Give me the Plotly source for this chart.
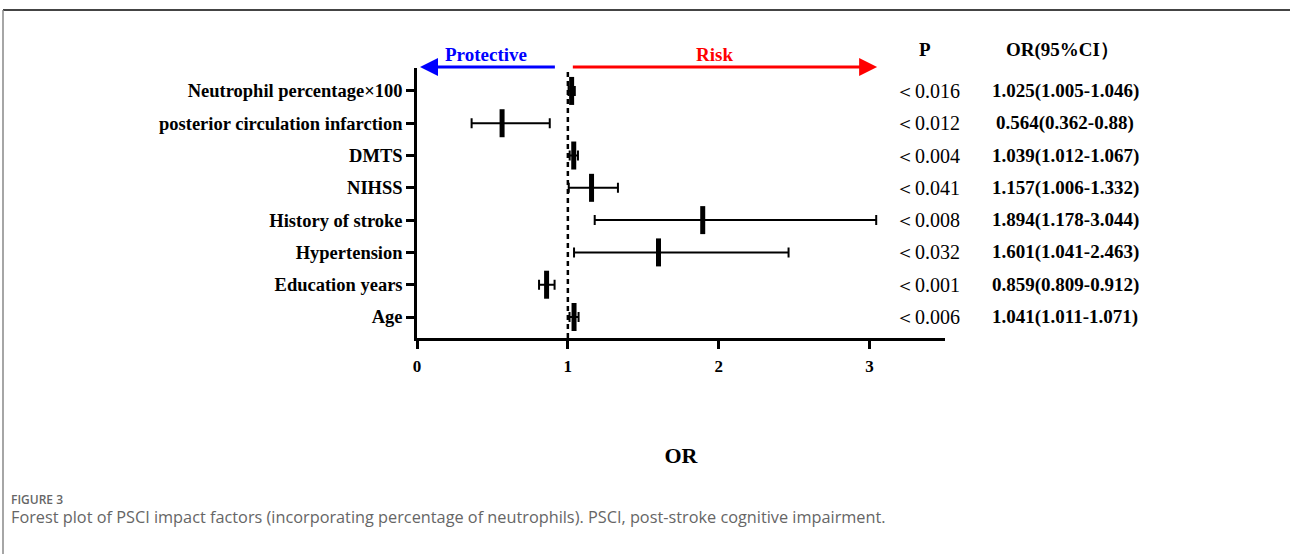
import plotly.graph_objects as go

labels = ["Neutrophil percentage×100", "posterior circulation infarction", "DMTS", "NIHSS",
          "History of stroke", "Hypertension", "Education years", "Age"]
or_vals = [1.025, 0.564, 1.039, 1.157, 1.894, 1.601, 0.859, 1.041]
ci_low = [1.005, 0.362, 1.012, 1.006, 1.178, 1.041, 0.809, 1.011]
ci_high = [1.046, 0.88, 1.067, 1.332, 3.044, 2.463, 0.912, 1.071]
p_text = ["＜0.016", "＜0.012", "＜0.004", "＜0.041", "＜0.008", "＜0.032", "＜0.001", "＜0.006"]
or_text = ["1.025(1.005-1.046)", "0.564(0.362-0.88)", "1.039(1.012-1.067)", "1.157(1.006-1.332)",
           "1.894(1.178-3.044)", "1.601(1.041-2.463)", "0.859(0.809-0.912)", "1.041(1.011-1.071)"]
x_ticks = [0, 1, 2, 3]

W, H = 1290, 554
rows = list(range(len(labels), 0, -1))
SERIF = "Liberation Serif"

fig = go.Figure()
fig.add_trace(go.Scatter(
    x=or_vals, y=rows, mode="markers",
    marker=dict(symbol="line-ns", size=20, line=dict(width=5, color="black"), color="black"),
    error_x=dict(type="data", symmetric=False,
                 array=[h - o for h, o in zip(ci_high, or_vals)],
                 arrayminus=[o - l for o, l in zip(or_vals, ci_low)],
                 color="black", thickness=2, width=5),
    showlegend=False, hoverinfo="skip", cliponaxis=False))

x0p, x1p = 417 / W, 945 / W
y0p, y1p = 1 - 338 / H, 1 - 68 / H

fig.update_layout(
    width=W, height=H, margin=dict(l=0, r=0, t=0, b=0, autoexpand=False),
    paper_bgcolor="white", plot_bgcolor="white",
    xaxis=dict(domain=[x0p, x1p], range=[0, 3.5], tickvals=x_ticks, automargin=False,
               showline=True, linewidth=2.5, linecolor="black", mirror=False,
               ticks="outside", ticklen=8, tickwidth=2.5, tickcolor="black",
               showgrid=False, zeroline=False,
               tickfont=dict(family=SERIF, size=17, color="black", weight="bold"),
               ticklabelstandoff=3,
               title=dict(text="OR", font=dict(family=SERIF, size=22, color="black", weight="bold"),
                          standoff=73)),
    yaxis=dict(domain=[y0p, y1p], range=[0.35, 8.71], tickvals=rows, ticktext=labels,
               automargin=False,
               showline=True, linewidth=2.5, linecolor="black",
               ticks="outside", ticklen=8, tickwidth=2.5, tickcolor="black",
               showgrid=False, zeroline=False,
               tickfont=dict(family=SERIF, size=18.5, color="black", weight="bold")),
)

# reference line at OR = 1
fig.add_shape(type="line", xref="x", yref="y domain", x0=1, x1=1, y0=0, y1=1,
              line=dict(color="black", width=2.5, dash="5px,4px"))

# arrows
arrow_y = 1 - 67 / H
fig.add_annotation(xref="x", yref="paper", x=0.02, y=arrow_y, axref="x", ayref="pixel",
                   ax=0.924, ay=0, showarrow=True, arrowhead=2, arrowsize=1.2, arrowwidth=3,
                   arrowcolor="blue", text="")
fig.add_annotation(xref="x", yref="paper", x=3.05, y=arrow_y, axref="x", ayref="pixel",
                   ax=1.023, ay=0, showarrow=True, arrowhead=2, arrowsize=1.2, arrowwidth=3,
                   arrowcolor="red", text="")
fig.add_annotation(xref="x", yref="paper", x=0.46, y=1 - 54 / H, text="Protective", showarrow=False,
                   xanchor="center", yanchor="middle",
                   font=dict(family=SERIF, size=19, color="blue", weight="bold"))
fig.add_annotation(xref="x", yref="paper", x=1.97, y=1 - 54 / H, text="Risk", showarrow=False,
                   xanchor="center", yanchor="middle",
                   font=dict(family=SERIF, size=19, color="red", weight="bold"))

# column headers
fig.add_annotation(xref="paper", yref="paper", x=925 / W, y=1 - 49 / H, text="P", showarrow=False,
                   xanchor="center", yanchor="middle",
                   font=dict(family=SERIF, size=19, color="black", weight="bold"))
fig.add_annotation(xref="paper", yref="paper", x=1062 / W, y=1 - 50 / H, text="OR(95%CI）",
                   showarrow=False, xanchor="center", yanchor="middle",
                   font=dict(family=SERIF, size=19, color="black", weight="bold"))

for r, p, o in zip(rows, p_text, or_text):
    fig.add_annotation(xref="paper", yref="y", x=927 / W, y=r, text=p, showarrow=False,
                       xanchor="center", yanchor="middle",
                       font=dict(family=SERIF, size=20, color="black"))
    fig.add_annotation(xref="paper", yref="y", x=1065 / W, y=r, text=o, showarrow=False,
                       xanchor="center", yanchor="middle",
                       font=dict(family=SERIF, size=19, color="black", weight="bold"))

# caption
fig.add_annotation(xref="paper", yref="paper", x=9 / W, y=1 - 500 / H, xanchor="left",
                   yanchor="middle", text="FIGURE 3", showarrow=False,
                   font=dict(family="Open Sans", size=12, color="#666666", weight=600))
fig.add_annotation(xref="paper", yref="paper", x=9 / W, y=1 - 517 / H, xanchor="left",
                   yanchor="middle",
                   text="Forest plot of PSCI impact factors (incorporating percentage of neutrophils). "
                        "PSCI, post-stroke cognitive impairment.",
                   showarrow=False, font=dict(family="Open Sans", size=16.3, color="#666666"))

# frame lines
fig.add_shape(type="line", xref="paper", yref="paper", x0=3 / W, x1=1, y0=1 - 10 / H, y1=1 - 10 / H,
              line=dict(color="#444444", width=2))
fig.add_shape(type="line", xref="paper", yref="paper", x0=3 / W, x1=3 / W, y0=0, y1=1 - 10 / H,
              line=dict(color="#888888", width=1.5))

fig.write_html("out.html")
